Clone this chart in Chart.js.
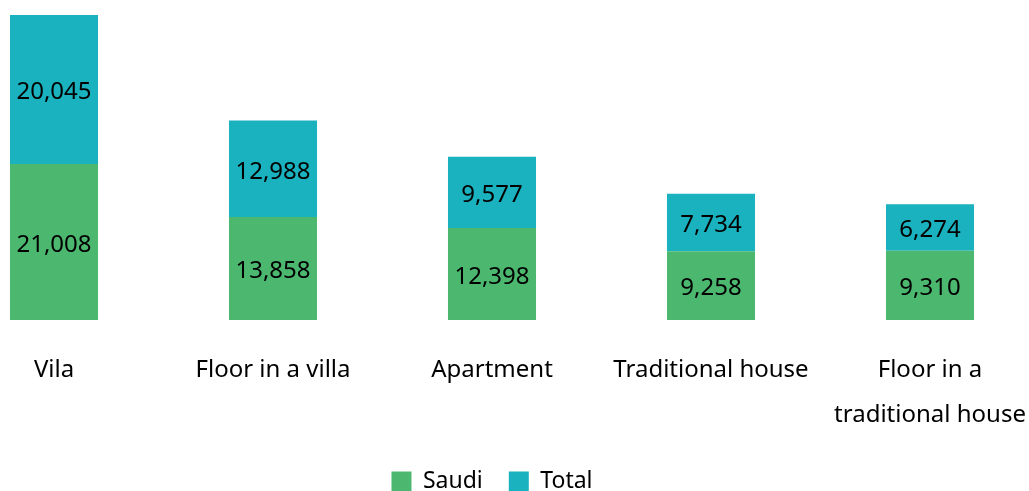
<!DOCTYPE html>
<html>
<head>
<meta charset="utf-8">
<script src="https://cdn.jsdelivr.net/npm/chart.js@4"></script>
<style>
  html, body { margin: 0; padding: 0; background: #fff; overflow: hidden; }
  /* un peu plus haut que la fenêtre pour descendre la légende */
  #wrap { width: 1029px; height: 503px; }
</style>
</head>
<body>
<div id="wrap"><canvas id="chart"></canvas></div>
<script>
// Types de logement
const categories = ['Vila', 'Floor in a villa', 'Apartment', 'Traditional house', ['Floor in a', 'traditional house']];
const saudi = [21008, 13858, 12398, 9258, 9310];
const total = [20045, 12988, 9577, 7734, 6274];

const green = '#4cb86f';
const teal = '#1bb2bf';
const fontFamily = '"Noto Sans", "Open Sans", sans-serif';

// Etiquettes de valeur au centre de chaque segment
const valueLabels = {
  id: 'valueLabels',
  afterDatasetsDraw(chart) {
    const ctx = chart.ctx;
    ctx.save();
    ctx.font = '24px ' + fontFamily;
    ctx.fillStyle = '#000';
    ctx.textAlign = 'center';
    ctx.textBaseline = 'middle';
    chart.data.datasets.forEach((ds, i) => {
      chart.getDatasetMeta(i).data.forEach((bar, j) => {
        const mid = (bar.y + bar.base) / 2 + 3;
        ctx.fillText(ds.data[j].toLocaleString('en-US'), bar.x, mid);
      });
    });
    ctx.restore();
  }
};

new Chart(document.getElementById('chart'), {
  type: 'bar',
  data: {
    labels: categories,
    datasets: [
      { label: 'Saudi', data: saudi, backgroundColor: green, clip: false },
      { label: 'Total', data: total, backgroundColor: teal, clip: false }
    ]
  },
  options: {
    responsive: true,
    maintainAspectRatio: false,
    animation: false,
    layout: { padding: { left: 54, right: 99, top: 8, bottom: 0 } },
    datasets: { bar: { barPercentage: 1, categoryPercentage: 0.402 } },
    scales: {
      x: {
        stacked: true,
        offset: false,
        grid: { display: false, drawTicks: false },
        border: { display: false },
        ticks: {
          color: '#000',
          padding: 28,
          maxRotation: 0,
          autoSkip: false,
          font: { family: fontFamily, size: 24, lineHeight: 1.875 }
        },
        afterFit(scale) {
          // on garde les positions des barres fixées par layout.padding
          scale.paddingLeft = 0;
          scale.paddingRight = 0;
          scale.height = 124;
        }
      },
      y: {
        stacked: true,
        display: false,
        min: 0,
        max: 42000
      }
    },
    plugins: {
      tooltip: { enabled: false },
      legend: {
        position: 'bottom',
        labels: {
          color: '#000',
          boxWidth: 20,
          boxHeight: 20,
          padding: 26,
          font: { family: fontFamily, size: 23 }
        }
      }
    }
  },
  plugins: [valueLabels]
});
</script>
</body>
</html>
